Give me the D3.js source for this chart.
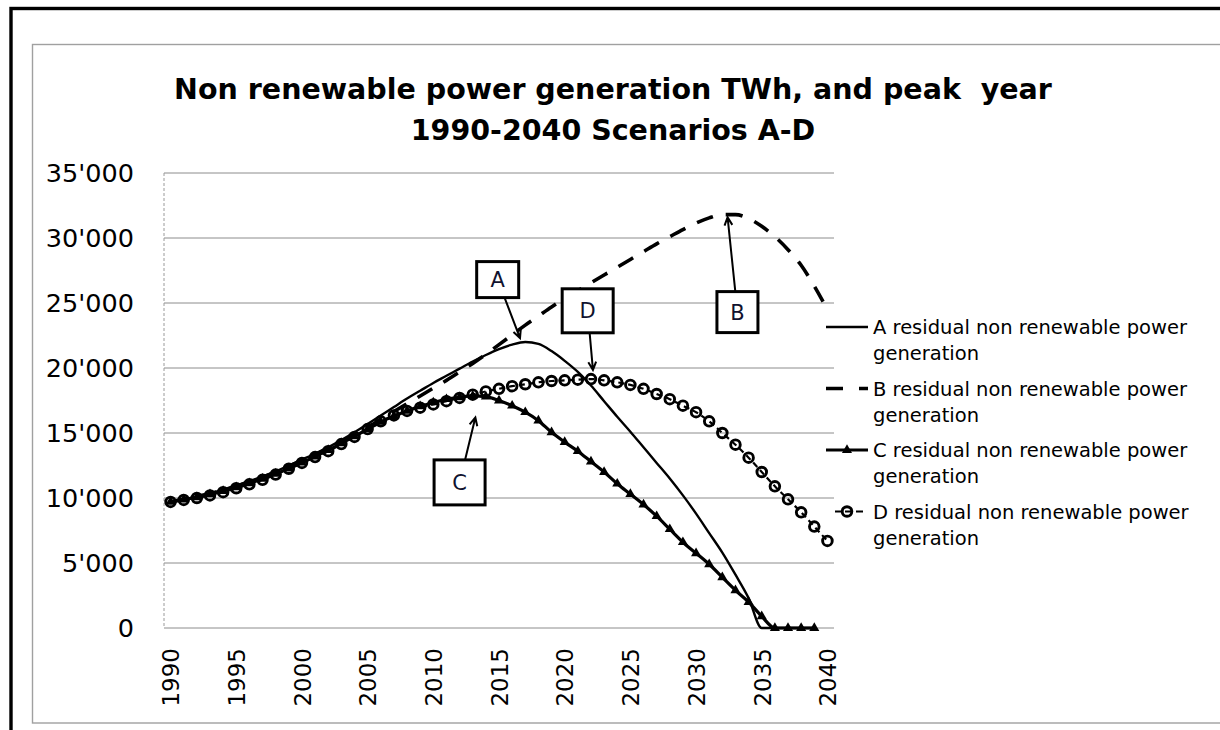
<!DOCTYPE html>
<html>
<head>
<meta charset="utf-8">
<script src="https://cdnjs.cloudflare.com/ajax/libs/d3/7.8.5/d3.min.js"></script>
<style>
  body { margin: 0; background: #fff; }
  svg { display: block; }
  text { font-family: "DejaVu Sans", sans-serif; fill: #000; }
</style>
</head>
<body>
<div id="chart"></div>
<script>
// ---- data (TWh) ----
const years = d3.range(1990, 2041);
const xTicks = [1990, 1995, 2000, 2005, 2010, 2015, 2020, 2025, 2030, 2035, 2040];
const yTicks = [0, 5000, 10000, 15000, 20000, 25000, 30000, 35000];

const seriesA = [9700, 9900, 10100, 10350, 10650, 10950, 11300, 11650, 12050, 12500,
  12950, 13400, 13900, 14450, 15050, 15700, 16350, 17000, 17650, 18250,
  18850, 19400, 19950, 20500, 21000, 21450, 21800, 22000, 21850, 21300,
  20550, 19700, 18650, 17450, 16250, 15100, 13900, 12700, 11500, 10200,
  8800, 7300, 5800, 4100, 2300, 0, 0, 0, 0, 0, null];
const seriesB = [9700, 9900, 10100, 10350, 10600, 10900, 11250, 11600, 12000, 12450,
  12900, 13350, 13850, 14350, 14900, 15450, 16050, 16650, 17250, 17850,
  18450, 19050, 19700, 20350, 21050, 21800, 22550, 23300, 24000, 24700,
  25350, 25950, 26550, 27150, 27750, 28350, 28950, 29550, 30100, 30650,
  31150, 31550, 31800, 31800, 31500, 30900, 30100, 29100, 27900, 26300, 24500];
const seriesC = [9700, 9880, 10050, 10280, 10530, 10820, 11130, 11480, 11860, 12270,
  12720, 13180, 13680, 14200, 14750, 15300, 15850, 16300, 16700, 17050,
  17350, 17600, 17750, 17850, 17800, 17500, 17100, 16600, 15950, 15050,
  14300, 13600, 12800, 12000, 11100, 10300, 9500, 8600, 7600, 6600,
  5750, 4900, 3900, 2900, 2000, 900, 0, 0, 0, 0, null];
const seriesD = [9700, 9850, 10000, 10200, 10450, 10750, 11050, 11400, 11800, 12250,
  12700, 13150, 13600, 14150, 14700, 15300, 15900, 16350, 16700, 16950,
  17200, 17450, 17700, 17950, 18200, 18400, 18600, 18750, 18900, 19000,
  19050, 19100, 19150, 19050, 18900, 18700, 18400, 18000, 17600, 17100,
  16600, 15900, 15000, 14100, 13100, 12000, 10900, 9900, 8900, 7800, 6700];

const seriesNames = ["A residual non renewable power generation",
  "B residual non renewable power generation",
  "C residual non renewable power generation",
  "D residual non renewable power generation"];
const titleLines = ["Non renewable power generation TWh, and peak  year",
  "1990-2040 Scenarios A-D"];

// callouts: letter, box centre (year, value), arrow tip (year, value)
const calloutLetters = ["A", "B", "C", "D"];
const calloutBoxAt = [[2014.9, 26800], [2033.15, 24300], [2012.0, 11200], [2021.75, 24400]];
const calloutTipAt = [[2016.6, 22300], [2032.4, 31600], [2013.2, 16200], [2022.15, 19850]];

// ---- layout ----
const width = 1220, height = 730;
const plot = {left: 164, right: 834, top: 173, bottom: 628};
const boxSizes = [[42, 36], [41, 41], [51, 45], [51, 44]];

const svg = d3.select("#chart").append("svg")
  .attr("width", width).attr("height", height);

// frames
svg.append("rect")
  .attr("x", 11).attr("y", 8.5).attr("width", 1260).attr("height", 760)
  .attr("fill", "none").attr("stroke", "#000").attr("stroke-width", 3.4);
svg.append("rect")
  .attr("x", 32.5).attr("y", 44.5).attr("width", 1220).attr("height", 678.5)
  .attr("fill", "none").attr("stroke", "#a0a0a0").attr("stroke-width", 1.4);

const x = d3.scalePoint().domain(years).range([plot.left, plot.right]).padding(0.5);
const xc = d3.scaleLinear().domain([1990, 2040]).range([x(1990), x(2040)]);
const y = d3.scaleLinear().domain([0, 35000]).range([plot.bottom, plot.top]);

const fmt = d3.formatLocale({decimal: ".", thousands: "'", grouping: [3], currency: ["", ""]}).format(",");

// title
svg.append("g").selectAll("text").data(titleLines).join("text")
  .attr("x", 613).attr("y", (d, i) => 99 + i * 41)
  .attr("text-anchor", "middle")
  .style("font-weight", "bold").style("font-size", "28.5px")
  .style("white-space", "pre")
  .text(d => d);

// gridlines
svg.append("g").selectAll("line").data(yTicks).join("line")
  .attr("x1", plot.left).attr("x2", plot.right)
  .attr("y1", d => y(d)).attr("y2", d => y(d))
  .attr("stroke", "#8c8c8c").attr("stroke-width", 1);
svg.append("line")
  .attr("x1", plot.left).attr("x2", plot.left)
  .attr("y1", plot.top).attr("y2", plot.bottom)
  .attr("stroke", "#9a9a9a").attr("stroke-dasharray", "3,2");

// axes
const yAxis = svg.append("g")
  .attr("transform", `translate(${plot.left},0)`)
  .call(d3.axisLeft(y).tickValues(yTicks).tickSize(0).tickPadding(30).tickFormat(fmt));
yAxis.select(".domain").remove();
yAxis.selectAll("text").style("font-size", "25.5px").style("font-family", "DejaVu Sans");

const xAxis = svg.append("g")
  .attr("transform", `translate(0,${plot.bottom})`)
  .call(d3.axisBottom(x).tickValues(xTicks).tickSize(0));
xAxis.select(".domain").remove();
xAxis.selectAll("text")
  .attr("transform", "rotate(-90)")
  .attr("text-anchor", "end")
  .attr("x", -20).attr("y", 0).attr("dy", "0.36em")
  .style("font-size", "23px").style("font-family", "DejaVu Sans");

// series
const rows = (vals) => years.map((yr, i) => ({year: yr, v: vals[i]}));
const line = d3.line()
  .defined(d => d.v != null)
  .x(d => x(d.year)).y(d => y(d.v))
  .curve(d3.curveMonotoneX);

const g = svg.append("g");
g.append("path").datum(rows(seriesA)).attr("d", line)
  .attr("fill", "none").attr("stroke", "#000").attr("stroke-width", 2.4);
g.append("path").datum(rows(seriesB)).attr("d", line)
  .attr("fill", "none").attr("stroke", "#000").attr("stroke-width", 3.6)
  .attr("stroke-dasharray", "17,13");
g.append("path").datum(rows(seriesC)).attr("d", line)
  .attr("fill", "none").attr("stroke", "#000").attr("stroke-width", 3.2);
g.append("g").selectAll("path").data(rows(seriesC).filter(d => d.v != null)).join("path")
  .attr("transform", d => `translate(${x(d.year)},${y(d.v)})`)
  .attr("d", d3.symbol(d3.symbolTriangle, 44))
  .attr("fill", "#000");
g.append("path").datum(rows(seriesD)).attr("d", line)
  .attr("fill", "none").attr("stroke", "#000").attr("stroke-width", 2.2)
  .attr("stroke-dasharray", "6,4");
g.append("g").selectAll("circle").data(rows(seriesD)).join("circle")
  .attr("cx", d => x(d.year)).attr("cy", d => y(d.v)).attr("r", 4.8)
  .attr("fill", "none").attr("stroke", "#000").attr("stroke-width", 2.9);

// callouts
calloutLetters.forEach((letter, i) => {
  const [bw, bh] = boxSizes[i];
  const cx = xc(calloutBoxAt[i][0]), cy = y(calloutBoxAt[i][1]);
  const tx = xc(calloutTipAt[i][0]), ty = y(calloutTipAt[i][1]);
  const dx = tx - cx, dy = ty - cy;
  const s = Math.min(bw / 2 / Math.abs(dx || 1e-9), bh / 2 / Math.abs(dy || 1e-9));
  const sx = cx + dx * s, sy = cy + dy * s;
  const ang = Math.atan2(ty - sy, tx - sx);
  const hl = 9, ha = 0.45;
  const h1 = [tx - hl * Math.cos(ang - ha), ty - hl * Math.sin(ang - ha)];
  const h2 = [tx - hl * Math.cos(ang + ha), ty - hl * Math.sin(ang + ha)];
  svg.append("path")
    .attr("d", `M${sx},${sy}L${tx},${ty}M${h1[0]},${h1[1]}L${tx},${ty}L${h2[0]},${h2[1]}`)
    .attr("fill", "none").attr("stroke", "#000").attr("stroke-width", 2);
  svg.append("rect")
    .attr("x", cx - bw / 2).attr("y", cy - bh / 2).attr("width", bw).attr("height", bh)
    .attr("fill", "#fff").attr("stroke", "#000").attr("stroke-width", 3);
  svg.append("text")
    .attr("x", cx).attr("y", cy).attr("dy", "0.36em").attr("text-anchor", "middle")
    .style("font-size", "21px").style("fill", "#10122e")
    .text(letter);
});

// legend
const legendY = [327, 388.5, 450, 511.5];
const lx0 = 826, lx1 = 868, ltx = 873;
const legend = svg.append("g");
seriesNames.forEach((name, i) => {
  const ly = legendY[i];
  const row = legend.append("g");
  const ln = row.append("line").attr("x1", lx0).attr("x2", lx1).attr("y1", ly).attr("y2", ly)
    .attr("stroke", "#000");
  if (i === 0) ln.attr("stroke-width", 2.4);
  if (i === 1) ln.attr("stroke-width", 3.6).attr("stroke-dasharray", "17,16");
  if (i === 2) {
    ln.attr("stroke-width", 3.2);
    row.append("path").attr("transform", `translate(${(lx0 + lx1) / 2},${ly})`)
      .attr("d", d3.symbol(d3.symbolTriangle, 44)).attr("fill", "#000");
  }
  if (i === 3) {
    ln.attr("stroke-width", 2.2).attr("stroke-dasharray", "0,9,7,3,8,3,7,20");
    row.append("circle").attr("cx", (lx0 + lx1) / 2).attr("cy", ly).attr("r", 4.8)
      .attr("fill", "none").attr("stroke", "#000").attr("stroke-width", 2.9);
  }
  const words = name.split(" ");
  const t = row.append("text").attr("x", ltx).attr("y", ly).attr("dy", "0.36em")
    .style("font-size", "19.5px");
  t.append("tspan").text(words.slice(0, -1).join(" "));
  t.append("tspan").attr("x", ltx).attr("dy", 26).text(words[words.length - 1]);
});
</script>
</body>
</html>
